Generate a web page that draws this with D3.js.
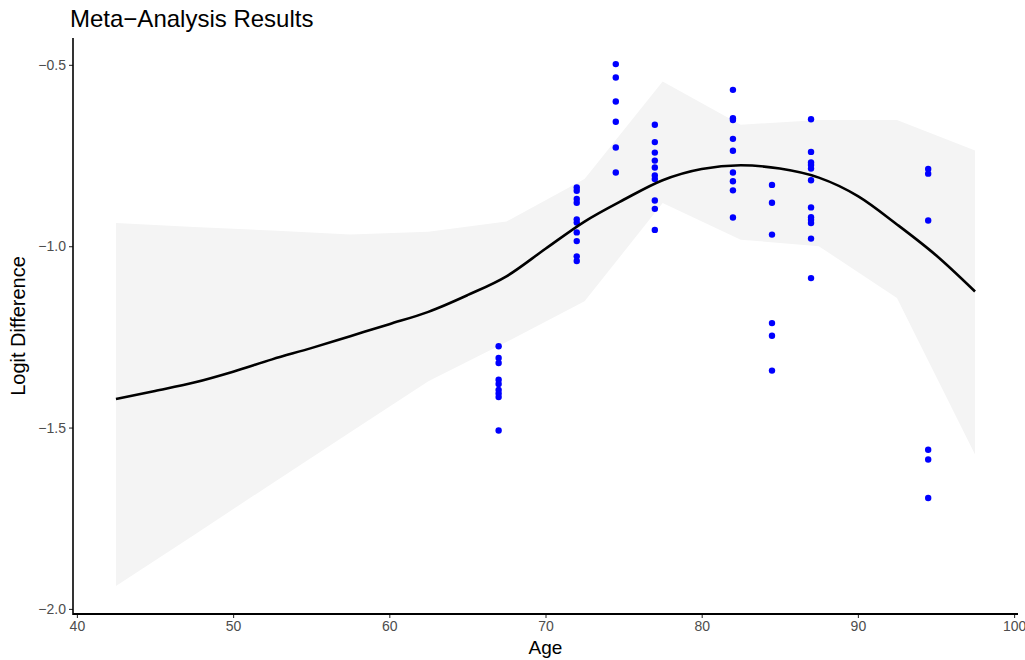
<!DOCTYPE html>
<html>
<head>
<meta charset="utf-8">
<script src="https://cdn.jsdelivr.net/npm/d3@7"></script>
<style>
  html, body { margin: 0; padding: 0; background: #ffffff; }
  svg { display: block; font-family: "Liberation Sans", Arial, sans-serif; }
</style>
</head>
<body>
<svg id="chart" width="1025" height="660"></svg>
<script>
// ---- data ----
const pointAges = [67, 72, 74.5, 77, 82, 84.5, 87, 94.5];
const pointValues = [
  [-1.276, -1.308, -1.322, -1.368, -1.38, -1.396, -1.406, -1.416, -1.508],
  [-0.838, -0.847, -0.870, -0.880, -0.926, -0.935, -0.962, -0.986, -1.028, -1.041],
  [-0.498, -0.535, -0.601, -0.657, -0.728, -0.797],
  [-0.665, -0.713, -0.742, -0.764, -0.783, -0.805, -0.815, -0.874, -0.897, -0.955],
  [-0.569, -0.647, -0.652, -0.704, -0.737, -0.797, -0.821, -0.846, -0.921],
  [-0.831, -0.880, -0.968, -1.212, -1.247, -1.343],
  [-0.650, -0.740, -0.769, -0.776, -0.786, -0.818, -0.893, -0.920, -0.927, -0.936, -0.979, -1.088],
  [-0.787, -0.800, -0.929, -1.561, -1.588, -1.694]
];

const fitAges = [42.5, 45, 47.5, 50, 52.5, 55, 57.5, 60, 62.5, 65, 67.5, 70, 72.5, 75, 77.5, 80, 82.5, 85, 87.5, 90, 92.5, 95, 97.5];
const fitValues = [-1.421, -1.399, -1.376, -1.346, -1.312, -1.281, -1.248, -1.215, -1.181, -1.135, -1.083, -1.007, -0.932, -0.872, -0.818, -0.787, -0.777, -0.786, -0.811, -0.862, -0.940, -1.025, -1.125];

const bandAges = [42.5, 47.5, 52.5, 57.5, 62.5, 67.5, 72.5, 77.5, 82.5, 87.5, 92.5, 97.5];
const bandUpper = [-0.936, -0.947, -0.957, -0.968, -0.960, -0.932, -0.815, -0.546, -0.665, -0.652, -0.652, -0.736];
const bandLower = [-1.937, -1.796, -1.654, -1.513, -1.372, -1.264, -1.152, -0.881, -0.982, -1.000, -1.143, -1.574];

const xTicks = [40, 50, 60, 70, 80, 90, 100];
const yTicks = [-2.0, -1.5, -1.0, -0.5];

const titleText = "Meta\u2212Analysis Results";
const xTitle = "Age";
const yTitle = "Logit Difference";

// ---- layout ----
const svg = d3.select("#chart");
const mLeft = 73, mRight = 1018, mTop = 38, mBottom = 614;

const x = d3.scaleLinear().domain([39.75, 100.25]).range([mLeft, mRight]);
const y = d3.scaleLinear().domain([-2.014, -0.426]).range([mBottom, mTop]);

// ribbon
const band = bandAges.map((a, i) => ({a, lo: bandLower[i], hi: bandUpper[i]}));
svg.append("path")
  .datum(band)
  .attr("fill", "#f4f4f4")
  .attr("d", d3.area().x(d => x(d.a)).y0(d => y(d.lo)).y1(d => y(d.hi)));

// points
const pts = [];
pointAges.forEach((a, i) => pointValues[i].forEach(v => pts.push({a, v})));
svg.append("g").selectAll("circle").data(pts).join("circle")
  .attr("cx", d => x(d.a)).attr("cy", d => y(d.v)).attr("r", 3.2)
  .attr("fill", "#0000ff");

// fit line
const fit = fitAges.map((a, i) => ({a, v: fitValues[i]}));
svg.append("path")
  .datum(fit)
  .attr("fill", "none").attr("stroke", "#000").attr("stroke-width", 2.6)
  .attr("d", d3.line().x(d => x(d.a)).y(d => y(d.v)).curve(d3.curveMonotoneX));

// axes
const fmtY = d => d3.format(".1f")(d).replace("-", "\u2212");
const xAxis = svg.append("g").attr("transform", `translate(0,${mBottom})`)
  .call(d3.axisBottom(x).tickValues(xTicks).tickSize(4).tickPadding(3).tickFormat(d3.format("d")));
const yAxis = svg.append("g").attr("transform", `translate(${mLeft},0)`)
  .call(d3.axisLeft(y).tickValues(yTicks).tickSize(4).tickPadding(3).tickFormat(fmtY));

[xAxis, yAxis].forEach(g => {
  g.selectAll(".tick line").attr("stroke", "#333333").attr("stroke-width", 1.1);
  g.selectAll(".tick text").attr("fill", "#4d4d4d").style("font-size", "14px")
    .style("font-family", "'Liberation Sans', Arial, sans-serif");
});
xAxis.select(".domain").remove();
yAxis.select(".domain").remove();
svg.append("line").attr("x1", mLeft).attr("x2", mRight).attr("y1", mBottom).attr("y2", mBottom)
  .attr("stroke", "#000").attr("stroke-width", 2);
svg.append("line").attr("x1", mLeft).attr("x2", mLeft).attr("y1", mTop).attr("y2", mBottom + 1)
  .attr("stroke", "#000").attr("stroke-width", 1.6);

// titles
svg.append("text").attr("x", 70).attr("y", 27)
  .style("font-size", "24px").attr("fill", "#000").text(titleText);
svg.append("text").attr("x", (mLeft + mRight) / 2).attr("y", 654)
  .attr("text-anchor", "middle").style("font-size", "19px").attr("fill", "#000").text(xTitle);
svg.append("text").attr("transform", `translate(25,${(mTop + mBottom) / 2}) rotate(-90)`)
  .attr("text-anchor", "middle").style("font-size", "20px").attr("fill", "#000").text(yTitle);
</script>
</body>
</html>
